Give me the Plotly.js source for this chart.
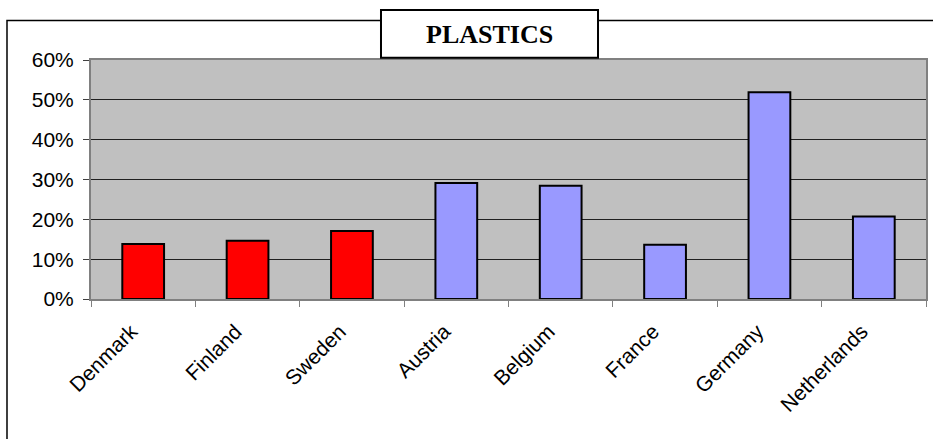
<!DOCTYPE html>
<html>
<head>
<meta charset="utf-8">
<script src="https://cdn.plot.ly/plotly-3.0.1.min.js"></script>
<style>html,body{margin:0;padding:0;background:#fff;}#chart{width:933px;height:439px;}</style>
</head>
<body>
<div id="chart"></div>
<script>
var countries = ['Denmark', 'Finland', 'Sweden', 'Austria', 'Belgium', 'France', 'Germany', 'Netherlands'];
var shares = [0.138, 0.146, 0.171, 0.291, 0.284, 0.136, 0.519, 0.207];
var groups = ['nordic', 'nordic', 'nordic', 'other', 'other', 'other', 'other', 'other'];
var yTickVals = [0, 0.1, 0.2, 0.3, 0.4, 0.5, 0.6];
var titleText = 'PLASTICS';

var groupColors = {nordic: '#FF0000', other: '#9999FF'};

var trace = {
  type: 'bar',
  x: countries,
  y: shares,
  width: 0.4,
  marker: {
    color: groups.map(function (g) { return groupColors[g]; }),
    line: {color: '#000000', width: 2}
  },
  hoverinfo: 'x+y'
};

var layout = {
  width: 933,
  height: 439,
  margin: {l: 91, r: 7, t: 60, b: 140},
  paper_bgcolor: '#FFFFFF',
  plot_bgcolor: '#C0C0C0',
  showlegend: false,
  font: {family: 'Liberation Sans, Arial, sans-serif', color: '#000000', size: 20},
  xaxis: {
    type: 'category',
    tickangle: -45,
    tickson: 'boundaries',
    ticks: 'outside',
    ticklen: 6,
    tickcolor: '#808080',
    showline: true,
    linecolor: '#808080',
    linewidth: 2,
    mirror: true,
    showgrid: false,
    ticklabelstandoff: 10,
    ticklabelshift: -12,
    tickfont: {size: 21, color: '#000000'},
    fixedrange: true
  },
  yaxis: {
    range: [0, 0.6],
    tickvals: yTickVals,
    tickformat: '.0%',
    ticks: 'outside',
    ticklen: 6,
    tickcolor: '#404040',
    showline: true,
    linecolor: '#808080',
    linewidth: 2,
    mirror: true,
    showgrid: true,
    gridcolor: '#202020',
    gridwidth: 1,
    zeroline: false,
    ticklabelstandoff: 5,
    tickfont: {size: 21, color: '#000000'},
    fixedrange: true
  },
  shapes: [
    {type: 'rect', xref: 'paper', yref: 'paper', x0: -0.1006, x1: 1.03, y0: -0.7, y1: 1.165,
     line: {color: '#000000', width: 1.5}, fillcolor: 'rgba(0,0,0,0)', layer: 'below'},
    {type: 'rect', xref: 'paper', yref: 'paper', x0: 0.3473, x1: 0.6072, y0: 1.0096, y1: 1.2092,
     line: {color: '#000000', width: 2}, fillcolor: '#FFFFFF', layer: 'above'}
  ],
  annotations: [
    {xref: 'paper', yref: 'paper', x: 0.4773, y: 1.108, xanchor: 'center', yanchor: 'middle',
     text: '<b>' + titleText + '</b>', showarrow: false,
     font: {family: 'Liberation Serif, Times New Roman, serif', size: 26, color: '#000000'}}
  ]
};

Plotly.newPlot('chart', [trace], layout, {displayModeBar: false, staticPlot: true});
</script>
</body>
</html>
